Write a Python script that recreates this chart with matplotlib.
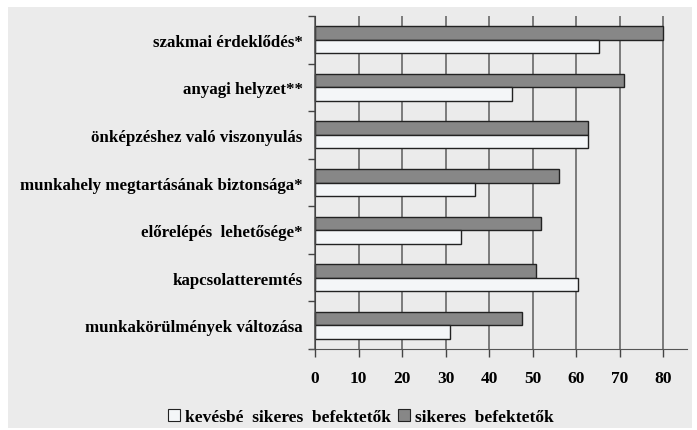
import matplotlib
matplotlib.use("Agg")
import matplotlib.pyplot as plt
from matplotlib.patches import Patch, Rectangle

# adatok
categories = ["szakmai érdeklődés*", "anyagi helyzet**",
              "önképzéshez való viszonyulás",
              "munkahely megtartásának biztonsága*",
              "előrelépés  lehetősége*", "kapcsolatteremtés",
              "munkakörülmények változása"]
sikeres = [80, 70.9, 62.8, 56.1, 52.0, 50.8, 47.6]
kevesbe = [65.3, 45.3, 62.8, 36.8, 33.5, 60.5, 31.1]
xticks = [0, 10, 20, 30, 40, 50, 60, 70, 80]

plt.rcParams["font.family"] = ["Liberation Serif", "DejaVu Serif"]
plt.rcParams["font.weight"] = "bold"

fig = plt.figure(figsize=(6.97, 4.31), dpi=100, facecolor="white")
# szurke hatter keret
fig.patches.append(Rectangle((8 / 697, 2 / 431), 684 / 697, 421 / 431,
                             transform=fig.transFigure, facecolor="#ebebeb",
                             edgecolor="none", zorder=-10))

ax = fig.add_axes([310 / 697, 81 / 431, 377 / 697, 333 / 431])
ax.set_facecolor("none")

h = 0.285
y = list(range(len(categories)))
ax.barh([v - h / 2 for v in y], sikeres, height=h, color="#878787",
        edgecolor="#222222", linewidth=1, zorder=3)
ax.barh([v + h / 2 for v in y], kevesbe, height=h, color="#f4f6f8",
        edgecolor="#222222", linewidth=1, zorder=3)

ax.set_xlim(-1.15, 85.44)
ax.set_ylim(len(categories) - 0.5, -0.5)

ax.set_xticks(xticks)
ax.set_xticklabels([str(t) for t in xticks])
ax.tick_params(axis="x", direction="out", length=6, width=1,
               color="#444444", pad=9, labelsize=12.5)
ax.xaxis.grid(True, color="#7a7a7a", linewidth=1.4, zorder=0)

ax.set_yticks([v - 0.5 for v in range(len(categories) + 1)])
ax.set_yticklabels([])
ax.tick_params(axis="y", which="major", direction="out", length=5,
               width=1, color="#444444")
ax.set_yticks(y, minor=True)
ax.set_yticklabels(categories, minor=True)
ax.tick_params(axis="y", which="minor", length=0, pad=9, labelsize=12.2)

for s in ["top", "right"]:
    ax.spines[s].set_visible(False)
ax.spines["left"].set_position(("data", 0))
ax.spines["left"].set_color("#444444")
ax.spines["bottom"].set_color("#555555")
ax.spines["left"].set_zorder(4)

handles = [Patch(facecolor="#f4f6f8", edgecolor="#222222", linewidth=0.8,
                 label="kevésbé  sikeres  befektetők"),
           Patch(facecolor="#878787", edgecolor="#222222", linewidth=0.8,
                 label="sikeres  befektetők")]
fig.legend(handles=handles, loc="center", bbox_to_anchor=(361 / 697, 1 - 418 / 431),
           ncol=2, frameon=False, handlelength=0.7,
           handleheight=0.7, handletextpad=0.3, columnspacing=0.4,
           prop={"weight": "bold", "size": 12.5})

fig.savefig("out.png", dpi=100, facecolor=fig.get_facecolor())
